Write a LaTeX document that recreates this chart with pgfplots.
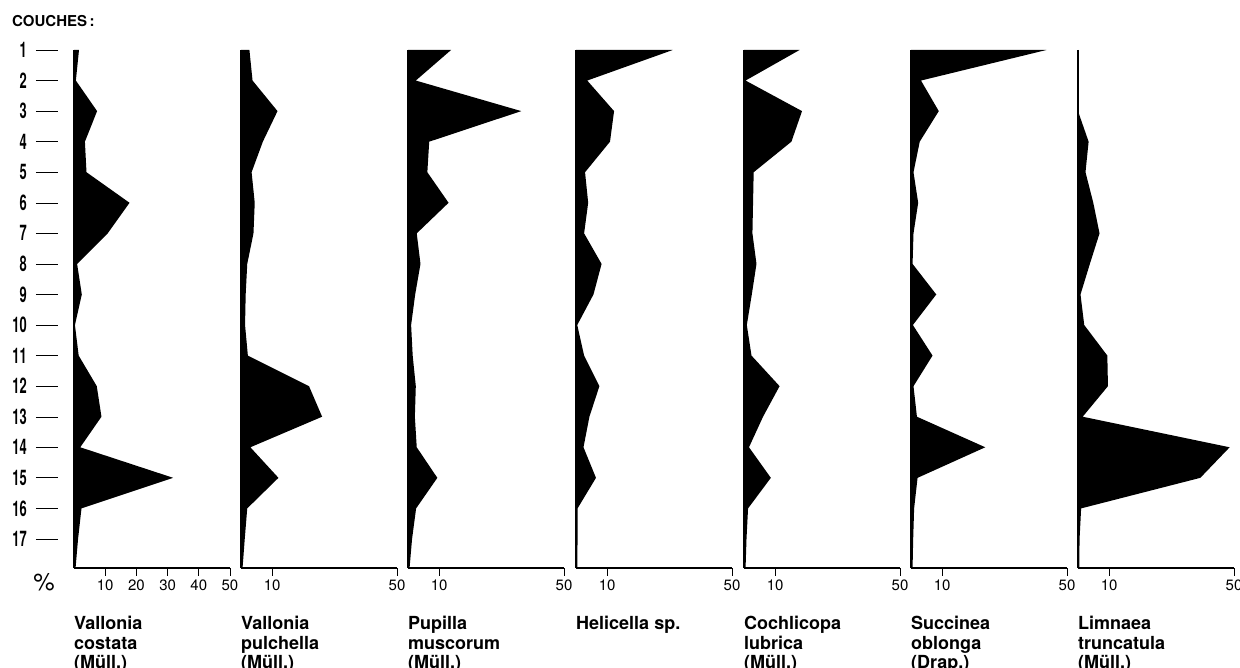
\documentclass[border=0pt]{standalone}
\usepackage{pgfplots}
\pgfplotsset{compat=1.18}
\usepackage{fontspec}
\setmainfont{TeX Gyre Heros}

% layer label on the left: condensed bold number followed by a dash
\newcommand\couche[1]{\scalebox{0.6}[1]{\fontsize{21.5}{21.5}\selectfont\bfseries #1}\hspace{9pt}\rule[7pt]{22pt}{0.9pt}}

\pgfplotsset{
  panel/.style={
    scale only axis, width=156pt, height=518pt,
    xmin=0, xmax=50, ymin=-17.95, ymax=-1,
    axis lines=left,
    axis line style={-, line width=1.4pt, black},
    tick align=outside, major tick length=8pt,
    xtick={10,50}, xticklabels={10,50},
    ytick=\empty,
    xtick style={line width=0.7pt, black},
    xticklabel style={font=\fontsize{15}{15}\selectfont, inner sep=0pt, yshift=-4pt},
    clip=false, axis on top,
    anchor=south west,
  },
  silhouette/.style={fill=black, draw=none},
}

\tikzset{title/.style={anchor=base west, inner sep=0pt, font=\fontsize{18}{20}\selectfont\bfseries}}

\begin{document}
\begin{tikzpicture}[x=1pt, y=1pt]
\clip (0,0) rectangle (1240,668);
\fill[white] (0,0) rectangle (1240,668);

% Vallonia costata
\begin{axis}[panel, at={(74pt,100pt)},
  xtick={10,20,30,40,50}, xticklabels={10,20,30,40,50},
  ytick={-1,-2,...,-17},
  yticklabels={\couche{1},\couche{2},\couche{3},\couche{4},\couche{5},\couche{6},\couche{7},\couche{8},\couche{9},\couche{10},\couche{11},\couche{12},\couche{13},\couche{14},\couche{15},\couche{16},\couche{17}},
  ytick style={draw=none},
  yticklabel style={anchor=east, inner sep=0pt, xshift=-8pt}]
\addplot[silhouette] coordinates {(0,-1) (1.6,-1) (0.6,-2) (7.4,-3) (3.5,-4) (4,-5) (17.8,-6) (10.8,-7) (1,-8) (2.5,-9) (0.3,-10) (1.5,-11) (7.3,-12) (8.8,-13) (2,-14) (31.8,-15) (2.4,-16) (1.3,-17) (0.5,-17.95) (0,-17.95)} -- cycle;
\end{axis}

% Vallonia pulchella
\begin{axis}[panel, at={(241pt,100pt)}]
\addplot[silhouette] coordinates {(0,-1) (2.7,-1) (3.7,-2) (11.7,-3) (7,-4) (3.4,-5) (4.4,-6) (4,-7) (2,-8) (1.5,-9) (1.3,-10) (2.2,-11) (21.8,-12) (26,-13) (3,-14) (12,-15) (2,-16) (1.2,-17) (0.5,-17.95) (0,-17.95)} -- cycle;
\end{axis}

% Pupilla muscorum
\begin{axis}[panel, at={(408pt,100pt)}]
\addplot[silhouette] coordinates {(0,-1) (13.8,-1) (2.5,-2) (36.3,-3) (6.8,-4) (6.2,-5) (13,-6) (2.8,-7) (4,-8) (2.3,-9) (1,-10) (1.5,-11) (2.5,-12) (2.2,-13) (2.8,-14) (9.4,-15) (2.6,-16) (1.3,-17) (0.5,-17.95) (0,-17.95)} -- cycle;
\end{axis}

% Helicella sp.
\begin{axis}[panel, at={(576pt,100pt)}]
\addplot[silhouette] coordinates {(0,-1) (31,-1) (3.6,-2) (12.2,-3) (10.9,-4) (2.9,-5) (3.9,-6) (2.6,-7) (8.2,-8) (5.6,-9) (0.4,-10) (2.6,-11) (7.5,-12) (4.3,-13) (2.4,-14) (6.4,-15) (0.5,-16) (0.5,-17) (0.4,-17.95) (0,-17.95)} -- cycle;
\end{axis}

% Cochlicopa lubrica
\begin{axis}[panel, at={(744pt,100pt)}]
\addplot[silhouette] coordinates {(0,-1) (17.8,-1) (0.5,-2) (18.6,-3) (15.2,-4) (3.1,-5) (2.9,-6) (2.7,-7) (4,-8) (2.5,-9) (0.9,-10) (2.4,-11) (11.4,-12) (6.1,-13) (1.6,-14) (8.6,-15) (1.3,-16) (0.8,-17) (0.5,-17.95) (0,-17.95)} -- cycle;
\end{axis}

% Succinea oblonga
\begin{axis}[panel, at={(911pt,100pt)}]
\addplot[silhouette] coordinates {(0,-1) (43.4,-1) (3.2,-2) (8.9,-3) (2.8,-4) (0.8,-5) (2.3,-6) (0.8,-7) (0.5,-8) (8.1,-9) (0.6,-10) (6.9,-11) (0.8,-12) (1.9,-13) (23.8,-14) (2.1,-15) (1,-16) (0.7,-17) (0.5,-17.95) (0,-17.95)} -- cycle;
\end{axis}

% Limnaea truncatula
\begin{axis}[panel, at={(1078pt,100pt)}]
\addplot[silhouette] coordinates {(0,-1) (0,-2) (0,-3) (3.4,-4) (2.4,-5) (4.9,-6) (6.9,-7) (3.8,-8) (0.8,-9) (2,-10) (9.4,-11) (9.6,-12) (1.5,-13) (48.6,-14) (39.2,-15) (1,-16) (0.5,-17) (0.4,-17.95) (0,-17.95)} -- cycle;
\end{axis}

% headings and species names
\node[anchor=base west, inner sep=0pt, font=\fontsize{15}{15}\selectfont\bfseries] at (12,641) {COUCHES\,:};
\node[inner sep=0pt, font=\fontsize{24}{24}\selectfont] at (44,86) {\%};

\node[title] at (74,38) {Vallonia};
\node[title] at (74,18) {costata};
\node[title] at (74,-1) {(Müll.)};

\node[title] at (241,38) {Vallonia};
\node[title] at (241,18) {pulchella};
\node[title] at (241,-1) {(Müll.)};

\node[title] at (408,38) {Pupilla};
\node[title] at (408,18) {muscorum};
\node[title] at (408,-1) {(Müll.)};

\node[title] at (576,38) {Helicella sp.};

\node[title] at (744,38) {Cochlicopa};
\node[title] at (744,18) {lubrica};
\node[title] at (744,-1) {(Müll.)};

\node[title] at (911,38) {Succinea};
\node[title] at (911,18) {oblonga};
\node[title] at (911,-1) {(Drap.)};

\node[title] at (1078,38) {Limnaea};
\node[title] at (1078,18) {truncatula};
\node[title] at (1078,-1) {(Müll.)};
\end{tikzpicture}
\end{document}
